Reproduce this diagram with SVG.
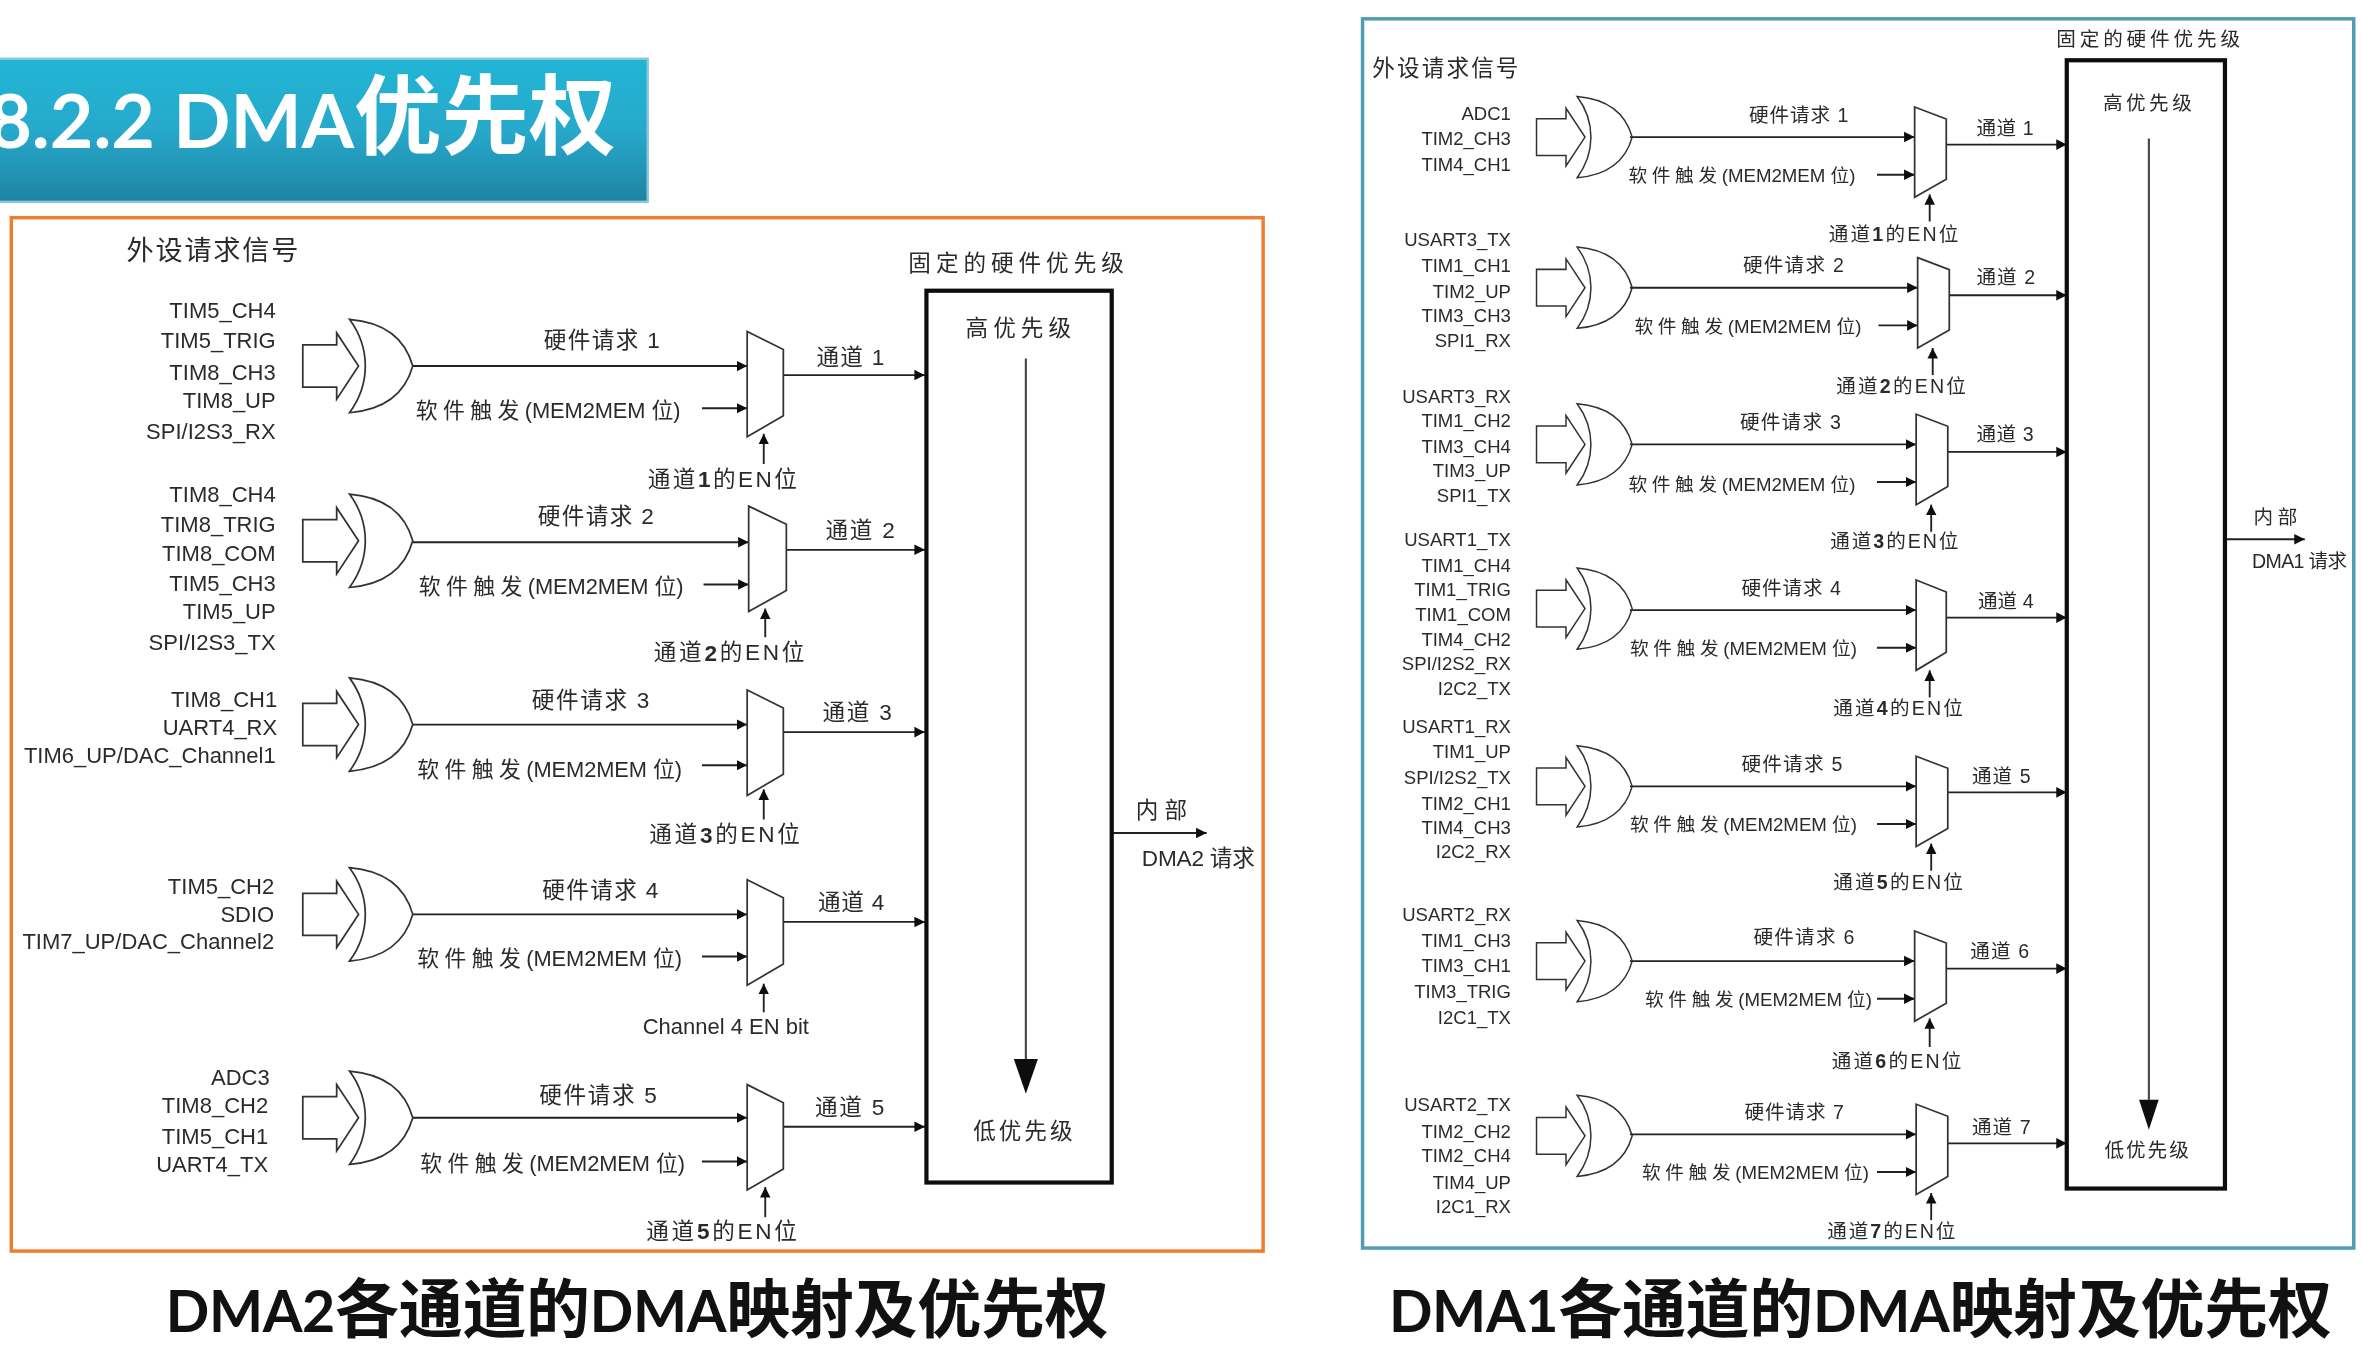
<svg xmlns="http://www.w3.org/2000/svg" width="2362" height="1361" viewBox="0 0 2362 1361">
<style>
text{font-family:"Liberation Sans","Noto Sans CJK SC",sans-serif;fill:#2b2b2b;dominant-baseline:central;transform:translateY(.2px)}
.s{font-size:14.6px;text-anchor:end}
.r{font-size:12.3px;text-anchor:end}
.l{font-size:15px}
.m{font-size:13px}
.h{font-size:18px}
.sl{font-size:14.5px}
.sr{font-size:12.4px}
.sl .a{letter-spacing:3.6px}
.sl .b{letter-spacing:-.05px}
.sr .a{letter-spacing:3.1px}
.sr .b{letter-spacing:0}
.big{font-family:Lato,"Noto Sans CJK SC",sans-serif;font-weight:700;dominant-baseline:alphabetic;fill:#111;transform:none}
.cjk{font-family:"Noto Sans CJK SC",sans-serif;font-size:42.5px}
.g{fill:#fff;stroke:#333;stroke-width:1.15}
.c{fill:none;stroke:#222;stroke-width:1.25;marker-end:url(#ah)}
.box{fill:none;stroke:#111;stroke-width:2.8}
.mux{fill:#fff;stroke:#333;stroke-width:1.15}
</style>
<defs>
<linearGradient id="bar" x1="0" y1="0" x2="0" y2="1"><stop offset="0" stop-color="#21b5d5"/><stop offset=".5" stop-color="#27a9cb"/><stop offset="1" stop-color="#1e84a3"/></linearGradient>
<marker id="ah" markerUnits="userSpaceOnUse" markerWidth="8" markerHeight="8" refX="7" refY="4" orient="auto"><path d="M0,.5L7,4L0,7.5Z" fill="#111"/></marker>
<g id="gate">
<path class="g" d="M0,-14H22.5V-22L37,0L22.5,22V14H0Z"/>
<path class="g" style="fill:none" d="M31,-31C55,-29 68,-18 73,0C68,18 55,29 31,31C45,12 45,-12 31,-31Z"/>
</g>
<filter id="soft" x="-2%" y="-2%" width="104%" height="104%"><feGaussianBlur stdDeviation=".45"/></filter>
</defs>
<rect width="2362" height="1361" fill="#fff"/>
<g transform="scale(1.5064)">
<g id="title">
<rect x="-4" y="39" width="434" height="95" fill="url(#bar)" stroke="#8cc8da" stroke-width="1.6"/>
<text class="big" x="409" y="98" text-anchor="end" style="fill:#fff;font-size:50px">8.2.2 DMA<tspan style="font-family:'Noto Sans CJK SC',sans-serif;font-size:58px">优先权</tspan></text>
</g>
<rect id="panel-dma2" x="7.5" y="144.5" width="831" height="686" fill="#fff" stroke="#ed7d31" stroke-width="2.3"/>
<rect id="panel-dma1" x="904.5" y="12.5" width="658" height="816" fill="#fff" stroke="#4f9db3" stroke-width="2.3"/>
<g id="dma2" filter="url(#soft)">
<g id="connectors-dma2">
<path class="c" d="M274,243H496"/><path class="c" d="M466,271H496"/><path class="c" d="M507,308V288"/><path class="c" d="M520,249H614"/>
<path class="c" d="M274,360H497"/><path class="c" d="M467,388H497"/><path class="c" d="M508,423V404"/><path class="c" d="M522,365H614"/>
<path class="c" d="M274,481H496"/><path class="c" d="M466,508H496"/><path class="c" d="M507,544V524"/><path class="c" d="M520,486H614"/>
<path class="c" d="M274,607H496"/><path class="c" d="M466,635H496"/><path class="c" d="M507,672V653"/><path class="c" d="M520,612H614"/>
<path class="c" d="M274,742H496"/><path class="c" d="M466,771H496"/><path class="c" d="M508,808V788"/><path class="c" d="M520,748H614"/>
<path class="c" d="M738,553H801"/>
<path d="M681,238V703" fill="none" stroke="#444" stroke-width="1.4"/>
<path d="M673,703H689L681,726Z" fill="#111"/>
</g>
<g id="d2-group1"><use href="#gate" x="201" y="243"/><path class="mux" d="M496,220L520,232V276L496,290Z"/>
<text class="s" x="183" y="206">TIM5_CH4</text><text class="s" x="183" y="226">TIM5_TRIG</text><text class="s" x="183" y="247">TIM8_CH3</text><text class="s" x="183" y="266">TIM8_UP</text><text class="s" x="183" y="286">SPI/I2S3_RX</text>
<text class="l" x="361" y="226" textLength="77">硬件请求 1</text><text class="sl" x="276" y="272"><tspan class="a">软件触发</tspan><tspan class="b">(MEM2MEM 位)</tspan></text><text class="l" x="542" y="237" textLength="45">通道 1</text><text class="l" x="430" y="318" textLength="99">通道<tspan font-weight="700">1</tspan>的EN位</text></g>
<g id="d2-group2"><use href="#gate" x="201" y="359"/><path class="mux" d="M497,336L522,348V392L497,406Z"/>
<text class="s" x="183" y="328">TIM8_CH4</text><text class="s" x="183" y="348">TIM8_TRIG</text><text class="s" x="183" y="367">TIM8_COM</text><text class="s" x="183" y="387">TIM5_CH3</text><text class="s" x="183" y="406">TIM5_UP</text><text class="s" x="183" y="426">SPI/I2S3_TX</text>
<text class="l" x="357" y="343" textLength="77">硬件请求 2</text><text class="sl" x="278" y="389"><tspan class="a">软件触发</tspan><tspan class="b">(MEM2MEM 位)</tspan></text><text class="l" x="548" y="352" textLength="46">通道 2</text><text class="l" x="434" y="433" textLength="100">通道<tspan font-weight="700">2</tspan>的EN位</text></g>
<g id="d2-group3"><use href="#gate" x="201" y="481"/><path class="mux" d="M496,458L520,470V514L496,528Z"/>
<text class="s" x="184" y="464">TIM8_CH1</text><text class="s" x="184" y="483">UART4_RX</text><text class="s" x="183" y="501">TIM6_UP/DAC_Channel1</text>
<text class="l" x="353" y="465" textLength="78">硬件请求 3</text><text class="sl" x="277" y="510"><tspan class="a">软件触发</tspan><tspan class="b">(MEM2MEM 位)</tspan></text><text class="l" x="546" y="473" textLength="46">通道 3</text><text class="l" x="431" y="554" textLength="100">通道<tspan font-weight="700">3</tspan>的EN位</text></g>
<g id="d2-group4"><use href="#gate" x="201" y="607"/><path class="mux" d="M496,584L520,596V640L496,654Z"/>
<text class="s" x="182" y="588">TIM5_CH2</text><text class="s" x="182" y="607">SDIO</text><text class="s" x="182" y="625">TIM7_UP/DAC_Channel2</text>
<text class="l" x="360" y="591" textLength="77">硬件请求 4</text><text class="sl" x="277" y="636"><tspan class="a">软件触发</tspan><tspan class="b">(MEM2MEM 位)</tspan></text><text class="l" x="543" y="599" textLength="44">通道 4</text><text class="s" x="537" y="681">Channel 4 EN bit</text></g>
<g id="d2-group5"><use href="#gate" x="201" y="742"/><path class="mux" d="M496,720L520,732V776L496,790Z"/>
<text class="s" x="179" y="715">ADC3</text><text class="s" x="178" y="734">TIM8_CH2</text><text class="s" x="178" y="754">TIM5_CH1</text><text class="s" x="178" y="773">UART4_TX</text>
<text class="l" x="358" y="727" textLength="78">硬件请求 5</text><text class="sl" x="279" y="772"><tspan class="a">软件触发</tspan><tspan class="b">(MEM2MEM 位)</tspan></text><text class="l" x="541" y="735" textLength="46">通道 5</text><text class="l" x="429" y="817" textLength="100">通道<tspan font-weight="700">5</tspan>的EN位</text></g>
<g id="d2-priority"><rect class="box" x="615" y="193" width="123" height="592"/>
<text class="l" x="641" y="218" textLength="70">高优先级</text><text class="l" x="646" y="751" textLength="66">低优先级</text></g>
<g id="d2-labels"><text class="h" x="84" y="166" textLength="114">外设请求信号</text><text class="l" x="603" y="175" textLength="143">固定的硬件优先级</text><text class="l" x="754" y="538" textLength="34">内部</text><text class="l" x="758" y="570" textLength="75">DMA2 请求</text></g>
</g>
<g id="dma1" filter="url(#soft)">
<g id="connectors-dma1">
<path class="c" d="M1082,91H1271"/><path class="c" d="M1246,116H1271"/><path class="c" d="M1281,147V129"/><path class="c" d="M1292,96H1372"/>
<path class="c" d="M1082,191H1273"/><path class="c" d="M1247,216H1273"/><path class="c" d="M1283,249V231"/><path class="c" d="M1294,196H1372"/>
<path class="c" d="M1082,295H1272"/><path class="c" d="M1246,320H1272"/><path class="c" d="M1282,353V335"/><path class="c" d="M1293,300H1372"/>
<path class="c" d="M1082,405H1272"/><path class="c" d="M1246,430H1272"/><path class="c" d="M1281,463V445"/><path class="c" d="M1292,410H1372"/>
<path class="c" d="M1082,522H1272"/><path class="c" d="M1246,547H1272"/><path class="c" d="M1282,578V560"/><path class="c" d="M1293,526H1372"/>
<path class="c" d="M1082,638H1271"/><path class="c" d="M1246,663H1271"/><path class="c" d="M1281,695V676"/><path class="c" d="M1292,643H1372"/>
<path class="c" d="M1082,753H1272"/><path class="c" d="M1246,778H1272"/><path class="c" d="M1282,810V792"/><path class="c" d="M1293,759H1372"/>
<path class="c" d="M1477,358H1530"/>
<path d="M1426.5,92V730" fill="none" stroke="#444" stroke-width="1.4"/>
<path d="M1420,730H1433L1426.5,750Z" fill="#111"/>
</g>
<g id="d1-channel1"><use href="#gate" transform="translate(1020,91) scale(.87)"/><path class="mux" d="M1271,71L1292,79V119L1271,131Z"/>
<text class="r" x="1003" y="75">ADC1</text><text class="r" x="1003" y="92">TIM2_CH3</text><text class="r" x="1003" y="109">TIM4_CH1</text>
<text class="m" x="1161" y="76" textLength="66">硬件请求 1</text><text class="sr" x="1081" y="116"><tspan class="a">软件触发</tspan><tspan class="b">(MEM2MEM 位)</tspan></text><text class="m" x="1312" y="85" textLength="38">通道 1</text><text class="m" x="1214" y="155" textLength="86">通道<tspan font-weight="700">1</tspan>的EN位</text></g>
<g id="d1-channel2"><use href="#gate" transform="translate(1020,191) scale(.87)"/><path class="mux" d="M1273,171L1294,179V219L1273,231Z"/>
<text class="r" x="1003" y="159">USART3_TX</text><text class="r" x="1003" y="176">TIM1_CH1</text><text class="r" x="1003" y="193">TIM2_UP</text><text class="r" x="1003" y="209">TIM3_CH3</text><text class="r" x="1003" y="226">SPI1_RX</text>
<text class="m" x="1157" y="176" textLength="67">硬件请求 2</text><text class="sr" x="1085" y="216"><tspan class="a">软件触发</tspan><tspan class="b">(MEM2MEM 位)</tspan></text><text class="m" x="1312" y="184" textLength="39">通道 2</text><text class="m" x="1219" y="256" textLength="86">通道<tspan font-weight="700">2</tspan>的EN位</text></g>
<g id="d1-channel3"><use href="#gate" transform="translate(1020,295) scale(.87)"/><path class="mux" d="M1272,275L1293,283V323L1272,335Z"/>
<text class="r" x="1003" y="263">USART3_RX</text><text class="r" x="1003" y="279">TIM1_CH2</text><text class="r" x="1003" y="296">TIM3_CH4</text><text class="r" x="1003" y="312">TIM3_UP</text><text class="r" x="1003" y="329">SPI1_TX</text>
<text class="m" x="1155" y="280" textLength="67">硬件请求 3</text><text class="sr" x="1081" y="321"><tspan class="a">软件触发</tspan><tspan class="b">(MEM2MEM 位)</tspan></text><text class="m" x="1312" y="288" textLength="38">通道 3</text><text class="m" x="1215" y="359" textLength="85">通道<tspan font-weight="700">3</tspan>的EN位</text></g>
<g id="d1-channel4"><use href="#gate" transform="translate(1020,404) scale(.87)"/><path class="mux" d="M1272,385L1292,393V433L1272,445Z"/>
<text class="r" x="1003" y="358">USART1_TX</text><text class="r" x="1003" y="375">TIM1_CH4</text><text class="r" x="1003" y="391">TIM1_TRIG</text><text class="r" x="1003" y="408">TIM1_COM</text><text class="r" x="1003" y="424">TIM4_CH2</text><text class="r" x="1003" y="440">SPI/I2S2_RX</text><text class="r" x="1003" y="457">I2C2_TX</text>
<text class="m" x="1156" y="390" textLength="66">硬件请求 4</text><text class="sr" x="1082" y="430"><tspan class="a">软件触发</tspan><tspan class="b">(MEM2MEM 位)</tspan></text><text class="m" x="1313" y="399" textLength="37">通道 4</text><text class="m" x="1217" y="470" textLength="86">通道<tspan font-weight="700">4</tspan>的EN位</text></g>
<g id="d1-channel5"><use href="#gate" transform="translate(1020,522) scale(.87)"/><path class="mux" d="M1272,502L1293,510V550L1272,562Z"/>
<text class="r" x="1003" y="482">USART1_RX</text><text class="r" x="1003" y="499">TIM1_UP</text><text class="r" x="1003" y="516">SPI/I2S2_TX</text><text class="r" x="1003" y="533">TIM2_CH1</text><text class="r" x="1003" y="549">TIM4_CH3</text><text class="r" x="1003" y="565">I2C2_RX</text>
<text class="m" x="1156" y="507" textLength="67">硬件请求 5</text><text class="sr" x="1082" y="547"><tspan class="a">软件触发</tspan><tspan class="b">(MEM2MEM 位)</tspan></text><text class="m" x="1309" y="515" textLength="39">通道 5</text><text class="m" x="1217" y="585" textLength="86">通道<tspan font-weight="700">5</tspan>的EN位</text></g>
<g id="d1-channel6"><use href="#gate" transform="translate(1020,638) scale(.87)"/><path class="mux" d="M1271,618L1292,626V666L1271,678Z"/>
<text class="r" x="1003" y="607">USART2_RX</text><text class="r" x="1003" y="624">TIM1_CH3</text><text class="r" x="1003" y="641">TIM3_CH1</text><text class="r" x="1003" y="658">TIM3_TRIG</text><text class="r" x="1003" y="675">I2C1_TX</text>
<text class="m" x="1164" y="622" textLength="67">硬件请求 6</text><text class="sr" x="1092" y="663"><tspan class="a">软件触发</tspan><tspan class="b">(MEM2MEM 位)</tspan></text><text class="m" x="1308" y="631" textLength="39">通道 6</text><text class="m" x="1216" y="704" textLength="86">通道<tspan font-weight="700">6</tspan>的EN位</text></g>
<g id="d1-channel7"><use href="#gate" transform="translate(1020,754) scale(.87)"/><path class="mux" d="M1272,733L1293,741V781L1272,793Z"/>
<text class="r" x="1003" y="733">USART2_TX</text><text class="r" x="1003" y="751">TIM2_CH2</text><text class="r" x="1003" y="767">TIM2_CH4</text><text class="r" x="1003" y="785">TIM4_UP</text><text class="r" x="1003" y="801">I2C1_RX</text>
<text class="m" x="1158" y="738" textLength="66">硬件请求 7</text><text class="sr" x="1090" y="778"><tspan class="a">软件触发</tspan><tspan class="b">(MEM2MEM 位)</tspan></text><text class="m" x="1309" y="748" textLength="39">通道 7</text><text class="m" x="1213" y="817" textLength="85">通道<tspan font-weight="700">7</tspan>的EN位</text></g>
<g id="d1-priority"><rect class="box" x="1372" y="40" width="105" height="749"/>
<text class="m" x="1396" y="68" textLength="59">高优先级</text><text class="m" x="1397" y="763" textLength="56">低优先级</text></g>
<g id="d1-labels"><text class="l" x="911" y="45" textLength="97">外设请求信号</text><text class="m" x="1365" y="26" textLength="122">固定的硬件优先级</text><text class="m" x="1496" y="343" textLength="29">内部</text><text class="m" x="1495" y="372" textLength="63">DMA1 请求</text></g>
</g>
<g id="captions">
<text class="big" x="110" y="884" textLength="626" style="font-size:38px">DMA2<tspan class="cjk">各通道的</tspan>DMA<tspan class="cjk">映射及优先权</tspan></text>
<text class="big" x="922" y="884" textLength="626" style="font-size:38px">DMA1<tspan class="cjk">各通道的</tspan>DMA<tspan class="cjk">映射及优先权</tspan></text>
</g>
</g>
</svg>
